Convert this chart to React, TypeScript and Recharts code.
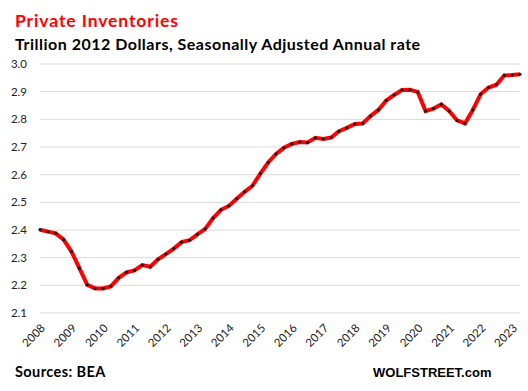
import React from 'react';
import { LineChart, Line, XAxis, YAxis, CartesianGrid } from 'recharts';

// Quarterly, 2008 Q1 .. 2023 Q2
const years = [2008, 2009, 2010, 2011, 2012, 2013, 2014, 2015, 2016, 2017, 2018, 2019, 2020, 2021, 2022, 2023];
const quarters = ['Q1', 'Q2', 'Q3', 'Q4'];

const inventories = [
  2.401, 2.394, 2.388, 2.365, 2.322, 2.262, 2.202, 2.189, 2.189, 2.196,
  2.227, 2.247, 2.254, 2.273, 2.267, 2.294, 2.313, 2.333, 2.356, 2.363,
  2.384, 2.404, 2.443, 2.473, 2.487, 2.513, 2.538, 2.560, 2.604, 2.644,
  2.675, 2.697, 2.711, 2.718, 2.716, 2.733, 2.729, 2.734, 2.757, 2.769,
  2.783, 2.785, 2.812, 2.834, 2.868, 2.888, 2.906, 2.907, 2.899, 2.830,
  2.839, 2.854, 2.830, 2.796, 2.785, 2.834, 2.891, 2.915, 2.925, 2.959,
  2.960, 2.963,
];

const yTicks = [2.1, 2.2, 2.3, 2.4, 2.5, 2.6, 2.7, 2.8, 2.9, 3.0];

const data = inventories.map((v, i) => ({
  idx: i,
  label: `${years[Math.floor(i / 4)]} ${quarters[i % 4]}`,
  value: v,
}));

const xTicks = years.map((_, i) => i * 4);

const font = 'Lato, "Open Sans", sans-serif';

const YearTick = (props: any) => {
  const { x, y, payload } = props;
  const year = years[Math.round(payload.value / 4)];
  return (
    <g transform={`translate(${x + 3},${y + 5})`}>
      <text
        transform="rotate(-45)"
        textAnchor="end"
        dy={4}
        fontSize={11.5}
        fontFamily={font}
        fill="#222"
      >
        {year}
      </text>
    </g>
  );
};

const Dot = (props: any) => {
  const { cx, cy, index } = props;
  return <circle key={index} cx={cx} cy={cy} r={1.6} fill="#1a1a1a" />;
};

export default function App() {
  return (
    <div
      style={{
        position: 'absolute',
        left: 0,
        top: 0,
        width: 528,
        height: 391,
        background: '#fff',
        fontFamily: font,
        overflow: 'hidden',
      }}
    >
      <div
        style={{
          position: 'absolute',
          left: 15,
          top: 10,
          color: '#ff0000',
          fontWeight: 700,
          fontSize: 17.5,
          letterSpacing: 0.9,
          whiteSpace: 'nowrap',
        }}
      >
        Private Inventories
      </div>
      <div
        style={{
          position: 'absolute',
          left: 15,
          top: 34,
          color: '#000',
          fontWeight: 700,
          fontSize: 16,
          letterSpacing: 0.5,
          whiteSpace: 'nowrap',
        }}
      >
        Trillion 2012 Dollars, Seasonally Adjusted Annual rate
      </div>
      <div style={{ position: 'absolute', top: 0, left: 0 }}>
        <LineChart width={528} height={391} data={data} margin={{ top: 64, right: 8, bottom: 0, left: 0 }}>
          <CartesianGrid vertical={false} stroke="#d9d9d9" strokeWidth={1} />
          <XAxis
            dataKey="idx"
            type="number"
            domain={[0, inventories.length - 1]}
            ticks={xTicks}
            tick={<YearTick />}
            axisLine={false}
            tickLine={false}
            interval={0}
            height={78}
          />
          <YAxis
            domain={[2.1, 3.0]}
            ticks={yTicks}
            tickFormatter={(v: number) => v.toFixed(1)}
            axisLine={false}
            tickLine={false}
            width={40}
            tickSize={0}
            tickMargin={13}
            tick={{ fontSize: 11.5, fill: '#222', fontFamily: font }}
          />
          <Line
            type="linear"
            dataKey="value"
            stroke="#ff0000"
            strokeWidth={4}
            dot={<Dot />}
            activeDot={false}
            isAnimationActive={false}
          />
        </LineChart>
      </div>
      <div
        style={{
          position: 'absolute',
          left: 15,
          top: 363,
          color: '#000',
          fontWeight: 700,
          fontSize: 14.5,
          letterSpacing: 0.4,
          whiteSpace: 'nowrap',
        }}
      >
        Sources: BEA
      </div>
      <div
        style={{
          position: 'absolute',
          left: 373,
          top: 365,
          color: '#000',
          fontWeight: 700,
          fontSize: 13,
          fontFamily: '"Liberation Sans", Arial, sans-serif',
          whiteSpace: 'nowrap',
        }}
      >
        WOLFSTREET.com
      </div>
    </div>
  );
}
